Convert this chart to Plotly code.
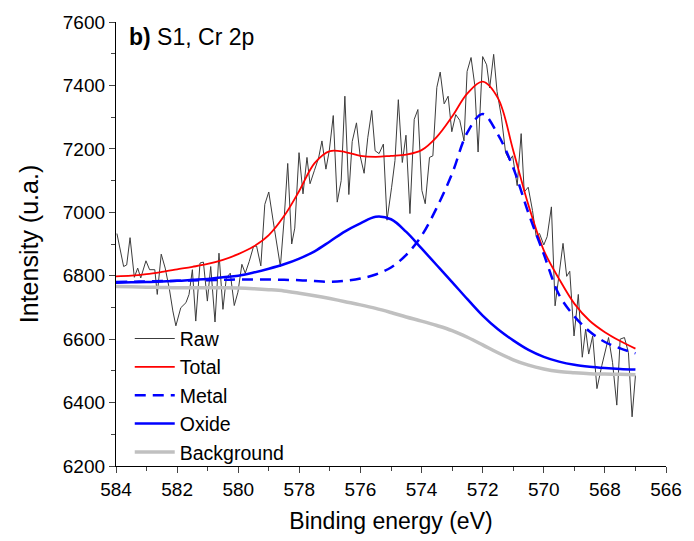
import plotly.graph_objects as go

# ---------------- data ----------------
raw_e = [583.97, 583.75, 583.65, 583.54, 583.40, 583.29, 583.19, 583.02, 582.90, 582.73,
         582.65, 582.52, 582.39, 582.25, 582.14, 582.04, 581.88, 581.71, 581.61, 581.50,
         581.39, 581.25, 581.14, 581.01, 580.90, 580.76, 580.63, 580.50, 580.39, 580.26,
         580.13, 580.01, 579.88, 579.77, 579.64, 579.50, 579.40, 579.26, 579.13, 579.00,
         578.86, 578.75, 578.62, 578.50, 578.38, 578.25, 578.15, 578.01, 577.88, 577.75,
         577.65, 577.51, 577.37, 577.26, 577.13, 577.02, 576.89, 576.76, 576.63, 576.51,
         576.38, 576.27, 576.13, 576.01, 575.88, 575.76, 575.63, 575.52, 575.39, 575.25,
         575.13, 574.98, 574.87, 574.76, 574.63, 574.51, 574.38, 574.24, 574.12, 573.99,
         573.88, 573.74, 573.63, 573.50, 573.39, 573.26, 573.13, 573.01, 572.88, 572.75,
         572.61, 572.51, 572.38, 572.26, 572.15, 572.00, 571.87, 571.77, 571.64, 571.53,
         571.39, 571.25, 571.12, 571.02, 570.87, 570.74, 570.64, 570.51, 570.37, 570.25,
         570.14, 570.00, 569.89, 569.75, 569.63, 569.37, 569.25, 569.15, 569.01, 568.87,
         568.74, 568.63, 568.53, 568.40, 568.26, 568.10, 567.88, 567.75, 567.61, 567.50,
         567.36, 567.23, 567.11, 567.00]
raw_i = [6933, 6829, 6834, 6920, 6795, 6824, 6793, 6847, 6819, 6819,
         6741, 6868, 6824, 6756, 6689, 6642, 6699, 6715, 6741, 6819,
         6657, 6840, 6843, 6720, 6829, 6654, 6871, 6694, 6793, 6808,
         6706, 6748, 6836, 6808, 6845, 6892, 6894, 6831, 7025, 7064,
         6975, 6907, 6829, 6975, 7154, 6900, 6950, 7188, 7058, 7173,
         7090, 7131, 7171, 7225, 7136, 7194, 7305, 7032, 7100, 7366,
         7056, 7223, 7282, 7178, 7123, 7235, 7321, 7194, 7185, 7215,
         6975, 7079, 7163, 7355, 7157, 7243, 6996, 7293, 7324, 7069,
         7027, 7173, 7178, 7394, 7442, 7342, 7366, 7254, 7308, 7290,
         7225, 7444, 7488, 7402, 7190, 7491, 7465, 7392, 7498, 7381,
         7303, 7188, 7163, 7178, 7084, 7248, 7064, 7079, 7006, 6925,
         6933, 6897, 6923, 7017, 6705, 6902, 6798, 6814, 6610, 6741,
         6543, 6631, 6553, 6610, 6444, 6517, 6605, 6527, 6392, 6600,
         6605, 6558, 6355, 6485]

fit_e = [584.0, 583.5, 583.0, 582.5, 582.0, 581.5, 581.0, 580.5, 580.0, 579.5,
         579.0, 578.5, 578.0, 577.5, 577.0, 576.5, 576.0, 575.5, 575.0, 574.5,
         574.0, 573.5, 573.0, 572.5, 572.0, 571.5, 571.0, 570.5, 570.0, 569.5,
         569.0, 568.5, 568.0, 567.5, 567.0]
total_i = [6798, 6800, 6805, 6812, 6820, 6828, 6837, 6850, 6868, 6892,
           6928, 6988, 7068, 7155, 7193, 7190, 7178, 7175, 7178, 7182,
           7196, 7238, 7302, 7375, 7412, 7360, 7195, 7022, 6880, 6790,
           6712, 6658, 6622, 6594, 6570]
metal_i = [6780, 6781, 6782, 6783, 6784, 6785, 6786, 6787, 6788, 6788,
           6788, 6787, 6786, 6783, 6781, 6784, 6791, 6804, 6826, 6866,
           6926, 7015, 7122, 7252, 7310, 7245, 7140, 6997, 6868, 6740,
           6672, 6624, 6591, 6571, 6555]
oxide_i = [6778, 6779, 6780, 6782, 6784, 6787, 6790, 6795, 6800, 6810,
           6822, 6836, 6854, 6877, 6908, 6940, 6965, 6986, 6978, 6938,
           6886, 6833, 6780, 6726, 6674, 6631, 6596, 6566, 6544, 6529,
           6519, 6513, 6509, 6506, 6504]
bg_i = [6766, 6765, 6764, 6763, 6762, 6762, 6762, 6762, 6761, 6759,
        6756, 6752, 6745, 6737, 6728, 6718, 6708, 6697, 6684, 6670,
        6657, 6643, 6627, 6606, 6582, 6557, 6535, 6518, 6506, 6498,
        6494, 6491, 6490, 6489, 6488]

y_ticks = [6200, 6400, 6600, 6800, 7000, 7200, 7400, 7600]
x_ticks = [584, 582, 580, 578, 576, 574, 572, 570, 568, 566]

FONT = "Arial, Liberation Sans, sans-serif"

fig = go.Figure()
fig.add_trace(go.Scatter(x=raw_e, y=raw_i, mode="lines", name="Raw",
                         line=dict(color="#3c3c3c", width=1), legendgroup="a"))
fig.add_trace(go.Scatter(x=fit_e, y=total_i, mode="lines", name="Total",
                         line=dict(color="#ff0000", width=1.8, shape="spline"), legendgroup="b"))
fig.add_trace(go.Scatter(x=fit_e, y=metal_i, mode="lines", name="Metal",
                         line=dict(color="#0000ff", width=2.5, dash="11px,7px", shape="spline"),
                         legendgroup="c"))
fig.add_trace(go.Scatter(x=fit_e, y=oxide_i, mode="lines", name="Oxide",
                         line=dict(color="#0000ff", width=2.5, shape="spline"), legendgroup="d"))
fig.add_trace(go.Scatter(x=fit_e, y=bg_i, mode="lines", name="Background",
                         line=dict(color="#c0c0c0", width=3.5, shape="spline"), legendgroup="e"))

fig.update_layout(
    width=694, height=541,
    margin=dict(l=116, r=18, t=20, b=73),
    paper_bgcolor="white", plot_bgcolor="white",
    font=dict(family=FONT, size=19, color="black"),
    showlegend=True,
    legend=dict(x=0.025, y=-0.012, xanchor="left", yanchor="bottom",
                bgcolor="rgba(0,0,0,0)", font=dict(size=19.5, family=FONT),
                tracegroupgap=0, itemwidth=40),
    xaxis=dict(range=[584, 566], tickvals=x_ticks, ticks="outside", ticklen=6,
               tickwidth=1.3, showline=True, linecolor="black", linewidth=1.3,
               showgrid=False, zeroline=False, mirror=False,
               minor=dict(dtick=1, ticks="outside", ticklen=4, tickwidth=1.3, showgrid=False),
               title=dict(text="Binding energy (eV)", font=dict(size=23), standoff=13),
               tickfont=dict(size=19)),
    yaxis=dict(range=[6200, 7600], tickvals=y_ticks, ticks="outside", ticklen=6,
               tickwidth=1.3, showline=True, linecolor="black", linewidth=1.3,
               showgrid=False, zeroline=False, mirror=False,
               minor=dict(dtick=100, ticks="outside", ticklen=4, tickwidth=1.3, showgrid=False),
               title=dict(text="Intensity (u.a.)", font=dict(size=25), standoff=17),
               tickfont=dict(size=19)),
    annotations=[dict(text="<b>b)</b> S1, Cr 2p", xref="paper", yref="paper",
                      x=0.02, y=1.0, xanchor="left", yanchor="top", showarrow=False,
                      font=dict(size=23, family=FONT))],
)

fig.write_html("out.html")
